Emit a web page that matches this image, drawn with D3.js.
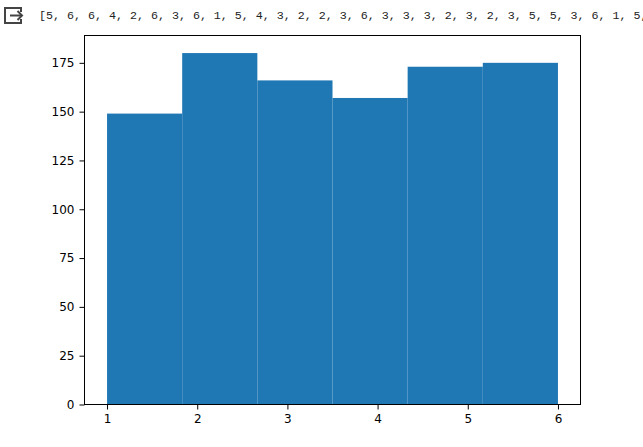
<!DOCTYPE html>
<html>
<head>
<meta charset="utf-8">
<script src="https://cdn.jsdelivr.net/npm/d3@7/dist/d3.min.js"></script>
<style>
html,body{margin:0;padding:0;background:#fff;overflow:hidden}
svg{display:block}
.tick text{font-family:"DejaVu Sans",sans-serif;font-size:12px;fill:#000}
</style>
</head>
<body>
<div id="chart"></div>
<script>
const binCounts = [149, 180, 166, 157, 173, 175];
const binRange = [1, 6];
const xTicks = [1, 2, 3, 4, 5, 6];
const yTicks = [0, 25, 50, 75, 100, 125, 150, 175];
const outputValues = [5, 6, 6, 4, 2, 6, 3, 6, 1, 5, 4, 3, 2, 2, 3, 6, 3, 3, 3, 2, 3, 2, 3, 5, 5, 3, 6, 1, 5];

const W = 643, H = 447;
const plot = {left: 84.5, right: 580.5, top: 35.5, bottom: 404.5};

const svg = d3.select("#chart").append("svg").attr("width", W).attr("height", H);

// output icon
const icon = svg.append("g").attr("fill", "none").attr("stroke", "#444").attr("stroke-width", 2);
icon.append("path").attr("d", d3.line()([[21,12],[21,8],[5,8],[5,23],[21,23],[21,19]]));
icon.append("path").attr("d", d3.line()([[10,15.5],[22,15.5]]));
icon.append("path").attr("d", d3.line()([[17.5,11],[22,15.5],[17.5,20]]));

// printed list
svg.append("text")
  .attr("x", 39).attr("y", 19)
  .attr("font-family", "'Liberation Mono', monospace")
  .attr("font-size", 11.67)
  .attr("fill", "#222")
  .attr("xml:space", "preserve")
  .style("white-space", "pre")
  .text("[" + outputValues.join(", ") + ",");

const binW = (binRange[1] - binRange[0]) / binCounts.length;
const pad = (binRange[1] - binRange[0]) * 0.05;
const x = d3.scaleLinear().domain([binRange[0] - pad, binRange[1] + pad]).range([plot.left, plot.right]);
const y = d3.scaleLinear().domain([0, d3.max(binCounts) * 1.05]).range([plot.bottom, plot.top]);

svg.append("g").selectAll("rect").data(binCounts).join("rect")
  .attr("x", (d, i) => x(binRange[0] + i * binW))
  .attr("width", (d, i) => x(binRange[0] + (i + 1) * binW) - x(binRange[0] + i * binW))
  .attr("y", d => y(d))
  .attr("height", d => y(0) - y(d))
  .attr("fill", "#1f77b4");

const gx = svg.append("g").attr("transform", `translate(0,${plot.bottom})`)
  .call(d3.axisBottom(x).tickValues(xTicks).tickFormat(d3.format("d")).tickSize(5).tickPadding(5));
const gy = svg.append("g").attr("transform", `translate(${plot.left},0)`)
  .call(d3.axisLeft(y).tickValues(yTicks).tickFormat(d3.format("d")).tickSize(5).tickPadding(5));
[gx, gy].forEach(g => {
  g.select(".domain").remove();
  g.selectAll("line").attr("stroke", "#000").attr("stroke-width", 1);
});

svg.append("rect")
  .attr("x", plot.left).attr("y", plot.top)
  .attr("width", plot.right - plot.left).attr("height", plot.bottom - plot.top)
  .attr("fill", "none").attr("stroke", "#000").attr("stroke-width", 1);
</script>
</body>
</html>
